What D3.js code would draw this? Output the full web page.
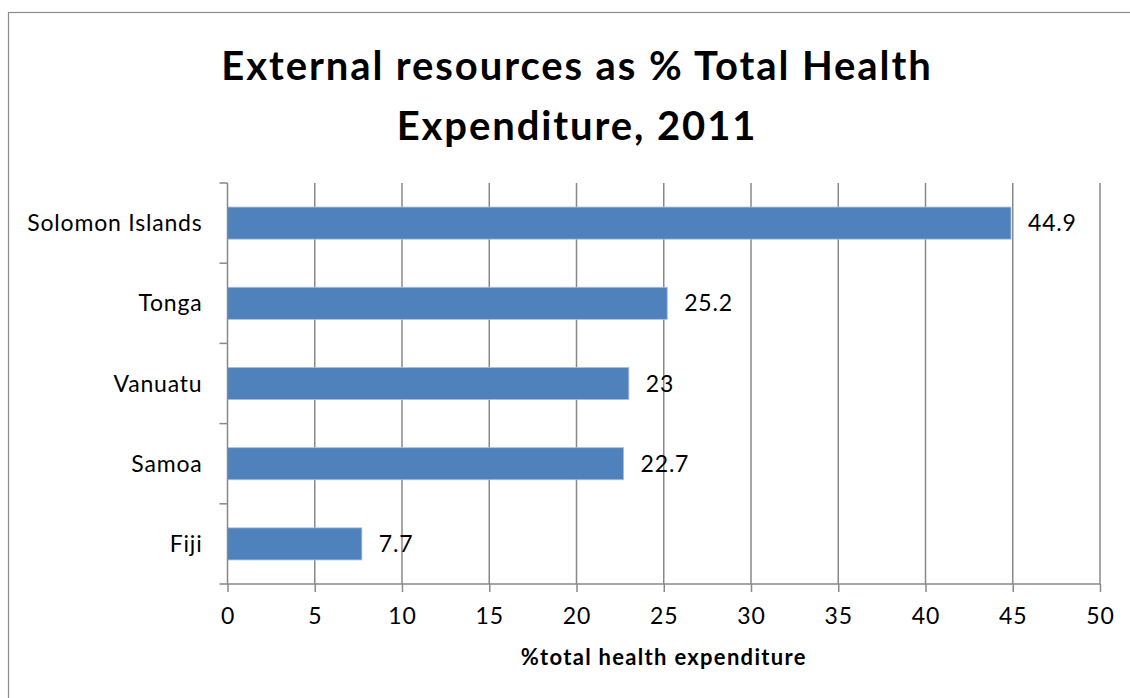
<!DOCTYPE html>
<html>
<head>
<meta charset="utf-8">
<script src="https://cdn.jsdelivr.net/npm/d3@7"></script>
<style>
  html, body { margin: 0; padding: 0; background: #fff; }
  svg { display: block; font-family: Lato, "Open Sans", sans-serif; }
</style>
</head>
<body>
<svg id="chart" width="1130" height="698"></svg>
<script>
// External resources as a share of total health expenditure, 2011
const countries = ["Solomon Islands", "Tonga", "Vanuatu", "Samoa", "Fiji"];
const shares = [44.9, 25.2, 23, 22.7, 7.7];
const xTicks = [0, 5, 10, 15, 20, 25, 30, 35, 40, 45, 50];
const titleLines = ["External resources as % Total Health", "Expenditure, 2011"];
const xAxisTitle = "%total health expenditure";

const svg = d3.select("#chart");
const W = 1130, H = 698;
const plot = { left: 227.5, right: 1100, top: 183, bottom: 584 };
const gridColor = "#898989";
const barColor = "#4f81bd";
const labelSize = 23;
const labelSpacing = "0.8px";

// Chart frame
svg.append("rect")
  .attr("x", 8.5).attr("y", 12.5)
  .attr("width", W).attr("height", H)
  .attr("fill", "none").attr("stroke", "#8c8c8c").attr("stroke-width", 1.2);

// Title
svg.append("g").selectAll("text")
  .data(titleLines)
  .join("text")
  .attr("x", 577)
  .attr("y", (d, i) => 80 + i * 60)
  .attr("text-anchor", "middle")
  .attr("font-weight", "bold")
  .attr("font-size", 40)
  .attr("letter-spacing", "1.9px")
  .attr("fill", "#000")
  .text(d => d);

const x = d3.scaleLinear().domain([0, 50]).range([plot.left, plot.right]);
const y = d3.scaleBand().domain(countries).range([plot.top, plot.bottom])
  .paddingInner(0.6).paddingOuter(0.3);
const yEdges = d3.scaleBand().domain(countries).range([plot.top, plot.bottom]);

// Vertical gridlines
svg.append("g").selectAll("line")
  .data(xTicks.slice(1))
  .join("line")
  .attr("x1", d => x(d)).attr("x2", d => x(d))
  .attr("y1", plot.top).attr("y2", plot.bottom)
  .attr("stroke", gridColor).attr("stroke-width", 1.5);

// Bars
svg.append("g").selectAll("rect")
  .data(countries)
  .join("rect")
  .attr("x", x(0))
  .attr("y", d => y(d))
  .attr("width", (d, i) => x(shares[i]) - x(0))
  .attr("height", y.bandwidth())
  .attr("fill", barColor)
  .attr("stroke", "#a9c0df").attr("stroke-width", 0.8);

// Value labels
svg.append("g").selectAll("text")
  .data(countries)
  .join("text")
  .attr("x", (d, i) => x(shares[i]) + 17)
  .attr("y", d => y(d) + y.bandwidth() / 2 + 8)
  .attr("font-size", labelSize)
  .attr("letter-spacing", labelSpacing)
  .attr("fill", "#000")
  .text((d, i) => String(shares[i]));

// X axis
const xAxis = d3.axisBottom(x).tickValues(xTicks).tickSize(8).tickPadding(16)
  .tickFormat(d3.format("d"));
const gx = svg.append("g")
  .attr("transform", `translate(0,${plot.bottom})`)
  .call(xAxis);
gx.select(".domain").attr("stroke", gridColor).attr("stroke-width", 1.5)
  .attr("d", `M${plot.left - 8},0H${plot.right}`);
gx.selectAll(".tick line").attr("stroke", gridColor).attr("stroke-width", 1.5);
gx.selectAll(".tick text").attr("font-size", labelSize).attr("fill", "#000")
  .attr("letter-spacing", labelSpacing)
  .attr("font-family", "Lato, sans-serif");

// Y axis: ticks sit on the category boundaries
const gy = svg.append("g")
  .attr("transform", `translate(${plot.left},0)`)
  .call(d3.axisLeft(y).tickSize(0).tickPadding(25));
gy.select(".domain").attr("stroke", gridColor).attr("stroke-width", 1.5)
  .attr("d", `M0,${plot.top}V${plot.bottom}`);
gy.selectAll(".tick text").attr("font-size", labelSize).attr("fill", "#000")
  .attr("letter-spacing", labelSpacing)
  .attr("font-family", "Lato, sans-serif").attr("dy", "0.35em");
gy.append("g").selectAll("line")
  .data(countries)
  .join("line")
  .attr("x1", -8).attr("x2", 0)
  .attr("y1", d => yEdges(d)).attr("y2", d => yEdges(d))
  .attr("stroke", gridColor).attr("stroke-width", 1.5);

// X axis title
svg.append("text")
  .attr("x", (plot.left + plot.right) / 2)
  .attr("y", 665)
  .attr("text-anchor", "middle")
  .attr("font-weight", "bold")
  .attr("font-size", 22)
  .attr("letter-spacing", "1.3px")
  .attr("fill", "#000")
  .text(xAxisTitle);
</script>
</body>
</html>
